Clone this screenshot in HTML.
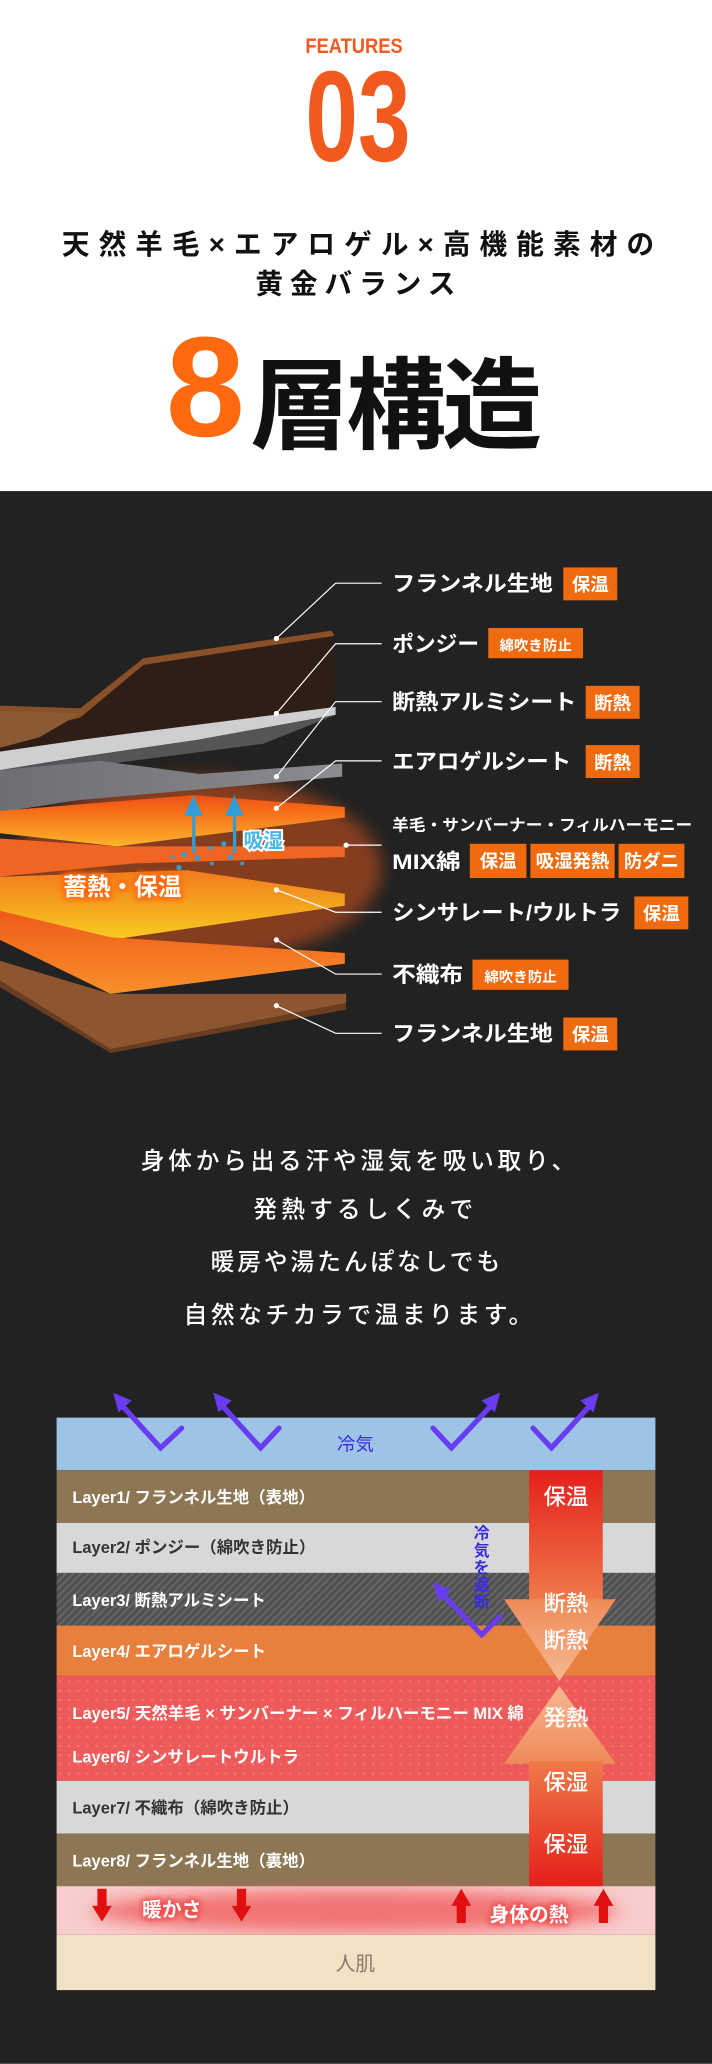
<!DOCTYPE html>
<html><head><meta charset="utf-8"><style>
html,body{margin:0;padding:0;background:#fff;width:712px;height:2064px;overflow:hidden;}
svg{display:block;}
text{font-family:"Liberation Sans","Noto Sans CJK JP",sans-serif;font-weight:bold;}
.n{font-weight:normal;}
.m{font-weight:500;}
</style></head><body>
<svg width="712" height="2064" viewBox="0 0 541 1568" xmlns="http://www.w3.org/2000/svg">
<defs>
<linearGradient id="gOr" x1="0" y1="0" x2="0" y2="1"><stop offset="0" stop-color="#f04e12"/><stop offset="1" stop-color="#ffb42a"/></linearGradient>
<linearGradient id="gOr2" x1="0" y1="0" x2="0" y2="1"><stop offset="0" stop-color="#f05a1a"/><stop offset="1" stop-color="#f7902a"/></linearGradient>
<linearGradient id="gYel" x1="0" y1="0" x2="0" y2="1"><stop offset="0" stop-color="#f27a1e"/><stop offset="1" stop-color="#f8cc20"/></linearGradient>
<linearGradient id="gGray" x1="0" y1="0" x2="1" y2="0"><stop offset="0" stop-color="#6e6e72"/><stop offset="1" stop-color="#8c8c90"/></linearGradient>
<linearGradient id="gBar1" x1="0" y1="0" x2="0" y2="1"><stop offset="0" stop-color="#e4201a"/><stop offset="1" stop-color="#f07a4a"/></linearGradient>
<linearGradient id="gBar2" x1="0" y1="0" x2="0" y2="1"><stop offset="0" stop-color="#f07a4a"/><stop offset="1" stop-color="#e4201a"/></linearGradient>
<linearGradient id="gTri1" x1="0" y1="0" x2="0" y2="1"><stop offset="0" stop-color="#f08a58"/><stop offset="1" stop-color="#f6b890"/></linearGradient>
<linearGradient id="gTri2" x1="0" y1="0" x2="0" y2="1"><stop offset="0" stop-color="#f6b890"/><stop offset="1" stop-color="#f08a58"/></linearGradient>
<pattern id="pStripe" width="4" height="4" patternUnits="userSpaceOnUse" patternTransform="rotate(45)"><rect width="4" height="4" fill="#505050"/><rect width="1.6" height="4" fill="#666"/></pattern>
<pattern id="pDot" width="7" height="7" patternUnits="userSpaceOnUse"><rect width="7" height="7" fill="#ee5a5a"/><circle cx="3.5" cy="3.5" r="0.9" fill="#f47a7a"/></pattern>
<filter id="blur" x="-20%" y="-50%" width="140%" height="200%"><feGaussianBlur stdDeviation="6"/></filter>
<filter id="glow" x="-20%" y="-50%" width="140%" height="200%"><feGaussianBlur stdDeviation="2"/></filter>
</defs>

<!-- header -->
<text x="269" y="40" text-anchor="middle" font-size="16" fill="#f05a1e" textLength="74" lengthAdjust="spacingAndGlyphs">FEATURES</text>
<text x="272" y="122" text-anchor="middle" font-size="98" fill="#f05a1e" textLength="80" lengthAdjust="spacingAndGlyphs">03</text>
<text x="47" y="193" font-size="21" fill="#111" textLength="450" lengthAdjust="spacing">天然羊毛×エアロゲル×高機能素材の</text>
<text x="194" y="223" font-size="21" fill="#111" textLength="152" lengthAdjust="spacing">黄金バランス</text>
<text x="126" y="331" font-size="108" fill="#ff6a10">8</text>
<text x="190" y="335" font-size="76" fill="#111" textLength="222" lengthAdjust="spacing">層構造</text>

<!-- dark section -->
<rect x="0" y="373" width="541" height="1195" fill="#222222"/>

<!-- illustration -->
<ellipse cx="150" cy="660" rx="140" ry="70" fill="#e8581a" opacity="0.5" filter="url(#blur)"/>
<polygon points="0,536 61,538 109,500 252,479 254,483 254,537 0,585" fill="#2e1e16"/>
<polygon points="0,536 61,538 109,500 252,479 254,483 109,505 61,545 0,560" fill="#8a5028"/>
<polygon points="0,540 61,542 30,560 0,568" fill="#8a5a34"/>
<polygon points="0,571 61,562 255,537 255,543 150,562 61,575 0,585" fill="#cfcfd2"/>
<polygon points="0,585 61,575 150,562 255,543 200,565 100,578 0,592" fill="#555558"/>
<polygon points="0,585 76,578 152,588 260,580 260,590 58,608 0,617" fill="url(#gGray)"/>
<polygon points="0,616 147,604 262,613 262,621 89,643 0,633" fill="url(#gOr)"/>
<polygon points="0,637 89,643 262,643 262,651 101,656 0,666" fill="#f06424"/>
<polygon points="0,666 142,661 262,679 262,688 84,714 0,693" fill="url(#gYel)"/>
<polygon points="0,692 84,712 262,724 262,732 84,755 0,714" fill="url(#gOr2)"/>
<polygon points="0,730 84,755 263,755 263,762 84,797 0,745" fill="#8e5630"/>
<polygon points="0,745 84,797 263,762 263,767 84,800 0,750" fill="#6a3c20"/>

<!-- moisture arrows -->
<g fill="#2f9ed6">
<rect x="146" y="618" width="2.5" height="30"/><polygon points="140,620 147,604 154,620"/>
<rect x="177" y="618" width="2.5" height="30"/><polygon points="171,620 178,604 185,620"/>
<circle cx="140" cy="649" r="2"/><circle cx="150" cy="652" r="2"/><circle cx="160" cy="644" r="1.5"/><circle cx="170" cy="641" r="2"/><circle cx="175" cy="651" r="2"/><circle cx="161" cy="656" r="1.5"/><circle cx="184" cy="656" r="1.5"/><circle cx="131" cy="651" r="1.3"/><circle cx="136" cy="659" r="2"/>
</g>
<text x="185" y="644" font-size="15" fill="#fff" stroke="#fff" stroke-width="3">吸湿</text>
<text x="185" y="644" font-size="15" fill="#49b6e6">吸湿</text>
<text x="48" y="680" font-size="18" fill="#ff7a20" stroke="#ff6a10" stroke-width="4" filter="url(#glow)">蓄熱・保温</text>
<text x="48" y="680" font-size="18" fill="#fff">蓄熱・保温</text>

<!-- leader lines -->
<g stroke="#fff" stroke-width="0.9" fill="none">
<polyline points="210,485 255,443 290,443"/>
<polyline points="210,542 255,489 290,489"/>
<polyline points="210,590 255,533 290,533"/>
<polyline points="210,614 255,578 290,578"/>
<polyline points="263,642 290,642"/>
<polyline points="210,676 255,693 290,693"/>
<polyline points="210,714 255,740 290,740"/>
<polyline points="210,764 255,785 290,785"/>
</g>
<g fill="#fff">
<circle cx="210" cy="485" r="2"/><circle cx="210" cy="542" r="2"/><circle cx="210" cy="590" r="2"/><circle cx="210" cy="614" r="2"/><circle cx="263" cy="642" r="2"/><circle cx="210" cy="676" r="2"/><circle cx="210" cy="714" r="2"/><circle cx="210" cy="764" r="2"/>
</g>

<!-- labels -->
<g fill="#fff" font-size="16.5">
<text x="298" y="449" textLength="122" lengthAdjust="spacingAndGlyphs">フランネル生地</text>
<text x="298" y="495" textLength="66" lengthAdjust="spacingAndGlyphs">ポンジー</text>
<text x="298" y="539" textLength="140" lengthAdjust="spacingAndGlyphs">断熱アルミシート</text>
<text x="298" y="584" textLength="136" lengthAdjust="spacingAndGlyphs">エアロゲルシート</text>
<text x="298" y="631" font-size="12" textLength="228" lengthAdjust="spacingAndGlyphs">羊毛・サンバーナー・フィルハーモニー</text>
<text x="298" y="660" textLength="52" lengthAdjust="spacingAndGlyphs">MIX綿</text>
<text x="298" y="699" textLength="174" lengthAdjust="spacingAndGlyphs">シンサレート/ウルトラ</text>
<text x="298" y="746" textLength="54" lengthAdjust="spacingAndGlyphs">不織布</text>
<text x="298" y="791" textLength="122" lengthAdjust="spacingAndGlyphs">フランネル生地</text>
</g>
<g fill="#f06a10">
<rect x="428" y="431" width="41" height="25"/>
<rect x="371" y="477" width="72" height="23"/>
<rect x="445" y="521" width="41" height="25"/>
<rect x="445" y="566" width="41" height="25"/>
<rect x="357" y="641" width="43" height="26"/>
<rect x="403" y="641" width="64" height="26"/>
<rect x="470" y="641" width="50" height="26"/>
<rect x="482" y="681" width="41" height="25"/>
<rect x="359" y="729" width="73" height="23"/>
<rect x="428" y="773" width="41" height="25"/>
</g>
<g fill="#fff" font-size="14" text-anchor="middle">
<text x="448.5" y="449">保温</text>
<text x="407" y="494" font-size="11">綿吹き防止</text>
<text x="465.5" y="539">断熱</text>
<text x="465.5" y="584">断熱</text>
<text x="378.5" y="659">保温</text>
<text x="435" y="659">吸湿発熱</text>
<text x="495" y="659">防ダニ</text>
<text x="502.5" y="699">保温</text>
<text x="395.5" y="746" font-size="11">綿吹き防止</text>
<text x="448.5" y="791">保温</text>
</g>

<!-- paragraph -->
<g fill="#fff" font-size="18" text-anchor="middle">
<text class="m" x="272" y="888" textLength="330" lengthAdjust="spacing">身体から出る汗や湿気を吸い取り、</text>
<text class="m" x="276" y="925" textLength="167" lengthAdjust="spacing">発熱するしくみで</text>
<text class="m" x="270" y="965" textLength="220" lengthAdjust="spacing">暖房や湯たんぽなしでも</text>
<text class="m" x="272" y="1005" textLength="265" lengthAdjust="spacing">自然なチカラで温まります。</text>
</g>

<!-- diagram -->
<rect x="43" y="1077" width="455" height="40" fill="#9dc3e6"/>
<rect x="43" y="1117" width="455" height="40" fill="#8c7654"/>
<rect x="43" y="1157" width="455" height="38" fill="#d8d8d8"/>
<rect x="43" y="1195" width="455" height="40" fill="url(#pStripe)"/>
<rect x="43" y="1235" width="455" height="38" fill="#e97f3c"/>
<rect x="43" y="1273" width="455" height="80" fill="url(#pDot)"/>
<rect x="43" y="1353" width="455" height="40" fill="#d8d8d8"/>
<rect x="43" y="1393" width="455" height="40" fill="#8c7654"/>
<rect x="43" y="1433" width="455" height="37" fill="#f8cccc"/>
<ellipse cx="270" cy="1452" rx="200" ry="16" fill="#f05050" opacity="0.7" filter="url(#blur)"/>
<rect x="43" y="1470" width="455" height="42" fill="#f1e2c6"/>

<text class="n" x="270" y="1102" text-anchor="middle" font-size="14" fill="#3b2be0">冷気</text>
<g font-size="12.5">
<text x="55" y="1142" fill="#fff">Layer1/ フランネル生地（表地）</text>
<text x="55" y="1180" fill="#333">Layer2/ ポンジー（綿吹き防止）</text>
<text x="55" y="1220" fill="#fff">Layer3/ 断熱アルミシート</text>
<text x="55" y="1259" fill="#fff">Layer4/ エアロゲルシート</text>
<text x="55" y="1306" fill="#fff" textLength="343" lengthAdjust="spacingAndGlyphs">Layer5/ 天然羊毛 × サンバーナー × フィルハーモニー MIX 綿</text>
<text x="55" y="1339" fill="#fff">Layer6/ シンサレートウルトラ</text>
<text x="55" y="1378" fill="#333">Layer7/ 不織布（綿吹き防止）</text>
<text x="55" y="1418" fill="#fff">Layer8/ フランネル生地（裏地）</text>
</g>

<!-- red arrows -->
<rect x="402" y="1117" width="56" height="100" fill="url(#gBar1)"/>
<polygon points="383,1215 468,1215 425,1277" fill="url(#gTri1)"/>
<polygon points="425,1281 383,1340 468,1340" fill="url(#gTri2)"/>
<rect x="402" y="1338" width="56" height="95" fill="url(#gBar2)"/>
<g fill="#fff" font-size="17" text-anchor="middle">
<text class="m" x="430" y="1143">保温</text>
<text class="m" x="430" y="1224">断熱</text>
<text class="m" x="430" y="1252">断熱</text>
<text class="m" x="430" y="1311">発熱</text>
<text class="m" x="430" y="1360">保湿</text>
<text class="m" x="430" y="1407">保湿</text>
</g>
<!-- vertical text -->
<g fill="#3b2be0" font-size="12" text-anchor="middle">
<text x="366" y="1169">冷</text><text x="366" y="1182">気</text><text x="366" y="1195">を</text><text x="366" y="1208">遮</text><text x="366" y="1221">断</text>
</g>

<!-- purple chevrons -->
<g stroke="#6a3cf0" stroke-width="4" fill="none" stroke-linecap="round">
<polyline points="92,1067 122,1100 138,1085"/>
<polyline points="168,1067 198,1100 212,1085"/>
<polyline points="329,1085 343,1100 374,1067"/>
<polyline points="405,1085 419,1100 449,1067"/>
<polyline points="335,1210 366,1242 380,1228"/>
</g>
<g fill="#6a3cf0">
<polygon points="86,1058 100,1064 90,1073"/>
<polygon points="162,1058 176,1064 166,1073"/>
<polygon points="380,1058 366,1064 376,1073"/>
<polygon points="455,1058 441,1064 451,1073"/>
<polygon points="329,1202 343,1208 333,1217"/>
</g>

<!-- warm band -->
<g fill="#e01010">
<rect x="74" y="1435" width="7" height="14"/><polygon points="70,1448 85,1448 77.5,1460"/>
<rect x="180" y="1435" width="7" height="14"/><polygon points="176,1448 191,1448 183.5,1460"/>
<rect x="347" y="1447" width="7" height="14"/><polygon points="343,1448 358,1448 350.5,1435"/>
<rect x="455" y="1447" width="7" height="14"/><polygon points="451,1448 466,1448 458.5,1435"/>
</g>
<text x="108" y="1456" font-size="15" fill="#f05050" stroke="#f05050" stroke-width="3" filter="url(#glow)">暖かさ</text>
<text x="108" y="1456" font-size="15" fill="#fff">暖かさ</text>
<text x="372" y="1460" font-size="15" fill="#f05050" stroke="#f05050" stroke-width="3" filter="url(#glow)">身体の熱</text>
<text x="372" y="1460" font-size="15" fill="#fff">身体の熱</text>
<text class="n" x="270" y="1497" text-anchor="middle" font-size="15" fill="#8a7a6a">人肌</text>
</svg>
</body></html>
